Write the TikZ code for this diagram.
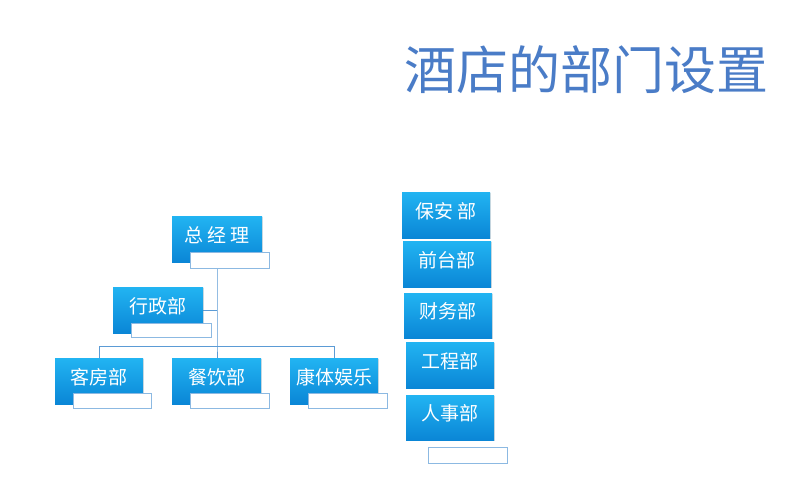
\documentclass[tikz,border=0pt]{standalone}
\usepackage{fontspec}
\setmainfont{Noto Sans CJK SC}
\usetikzlibrary{shadows}
\definecolor{btop}{HTML}{22B4F2}
\definecolor{bbot}{HTML}{0A86D6}
\definecolor{lineb}{HTML}{5B9BD5}
\definecolor{ttl}{HTML}{4A7CC7}
\tikzset{
 bx/.style={top color=btop,bottom color=bbot,draw=none,drop shadow={opacity=0.25,shadow xshift=1pt,shadow yshift=-1pt}},
 wb/.style={draw=lineb!70,fill=white,line width=0.8pt},
 lbl/.style={text=white,font=\fontsize{19}{19}\selectfont},
 ln/.style={draw=lineb,line width=0.8pt}
}
\begin{document}
\begin{tikzpicture}[x=1pt,y=-1pt]
\useasboundingbox[fill=white] (0,0) rectangle (800,503);
\node[text=ttl,font=\fontsize{52}{52}\selectfont,anchor=center] (t) at (586,70) {酒店的部门设置};
% lines
\coordinate (v1) at (217,268);
\coordinate (v2) at (217,346);
\coordinate (hl) at (99,346);
\coordinate (hr) at (334,346);
\coordinate (a1) at (99,358);
\coordinate (a2) at (217,358);
\coordinate (a3) at (334,358);
\coordinate (xz) at (203,310);
\coordinate (xzv) at (217,310);
\draw[ln] (v1) -- (v2) -- (a2);
\draw[ln] (hl) -- (hr);
\draw[ln] (hl) -- (a1);
\draw[ln] (hr) -- (a3);
\draw[ln] (xz) -- (xzv);
% left boxes
\newcommand{\ob}[6]{%
 \path[bx] (#1,#2) rectangle (#3,#4);
 \node[lbl] (#5) at ({(#1+#3)/2},{(#2+#4)/2-4}) {#6};}
\ob{172}{216}{262}{262}{zjl}{总 经 理}
\draw[wb] (190,252) rectangle (269,268);
\ob{113}{287}{203}{333}{xzb}{行政部}
\draw[wb] (131,323) rectangle (211,337);
\ob{55}{358}{143}{404}{kfb}{客房部}
\draw[wb] (73,393) rectangle (151,408);
\ob{172}{358}{261}{404}{cyb}{餐饮部}
\draw[wb] (190,393) rectangle (269,408);
\ob{290}{358}{378}{404}{kt}{康体娱乐}
\draw[wb] (308,393) rectangle (387,408);
% right column
\ob{402}{192}{490}{238}{ba}{保安 部}
\ob{403}{241}{491}{287}{qt}{前台部}
\ob{404}{293}{492}{338}{cw}{财务部}
\ob{406}{342}{494}{388}{gc}{工程部}
\ob{406}{395}{494}{440}{rs}{人事部}
\draw[wb] (428,447) rectangle (507,463);
\end{tikzpicture}
\end{document}
